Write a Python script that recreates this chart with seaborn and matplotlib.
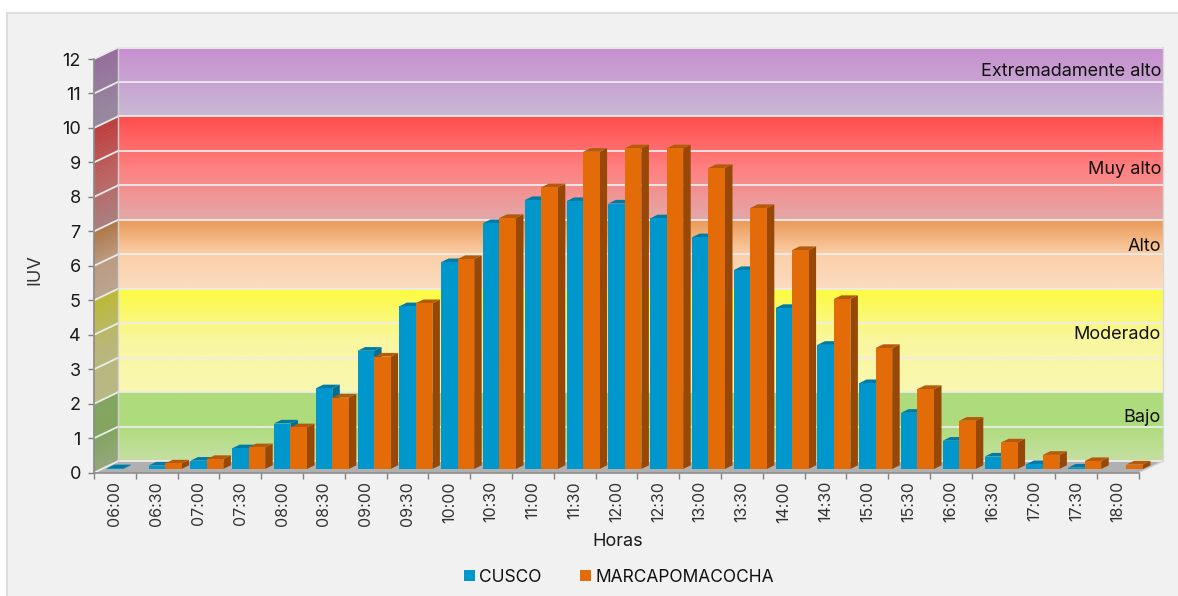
import numpy as np
import pandas as pd
import seaborn as sns
import matplotlib.pyplot as plt
from matplotlib.collections import PolyCollection
from matplotlib.colors import LinearSegmentedColormap
from matplotlib.patches import Polygon, Rectangle

HOURS = ["06:00", "06:30", "07:00", "07:30", "08:00", "08:30", "09:00", "09:30",
         "10:00", "10:30", "11:00", "11:30", "12:00", "12:30", "13:00", "13:30",
         "14:00", "14:30", "15:00", "15:30", "16:00", "16:30", "17:00", "17:30", "18:00"]
CUSCO = [0.02, 0.10, 0.24, 0.60, 1.32, 2.34, 3.43, 4.72, 6.00, 7.13, 7.80, 7.77, 7.70,
         7.27, 6.72, 5.77, 4.67, 3.60, 2.49, 1.63, 0.82, 0.36, 0.14, 0.04, 0.0]
MARCAPOMACOCHA = [0.0, 0.16, 0.29, 0.63, 1.21, 2.07, 3.26, 4.81, 6.09, 7.28, 8.17, 9.20, 9.30,
                  9.30, 8.73, 7.57, 6.35, 4.93, 3.51, 2.32, 1.40, 0.77, 0.41, 0.23, 0.13]

# risk bands: limits, names, where the name sits, wall gradient top -> bottom
BAND_LIMITS = [(10, 12), (7, 10), (5, 7), (2, 5), (0, 2)]
BAND_NAMES = ["Extremadamente alto", "Muy alto", "Alto", "Moderado", "Bajo"]
BAND_TEXT_Y = [11.64, 8.80, 6.57, 4.00, 1.60]
BAND_COLORS = [
    ["#c78fd0", "#c8b8d4"],
    ["#ff4d4d", "#ff8080", "#e3a8a8"],
    ["#ea9a58", "#fbcfa8", "#fbdcc0"],
    ["#fdfb3f", "#f9f6a0", "#f9f8b0"],
    ["#aedc7c", "#aedc7c", "#c5dfa2"],
]

W, H = 1178, 596
X0, X1, Y0, Y1 = 94, 1139, 472.7, 59   # front plane in pixels
SERIES_COLORS = {"CUSCO": "#0098cc", "MARCAPOMACOCHA": "#e36c09"}
SIDE_COLORS = {"CUSCO": "#006f96", "MARCAPOMACOCHA": "#974806"}
TOP_COLORS = {"CUSCO": "#007ba6", "MARCAPOMACOCHA": "#b45a08"}

df = pd.DataFrame({"Horas": HOURS * 2,
                   "IUV": CUSCO + MARCAPOMACOCHA,
                   "Serie": ["CUSCO"] * len(HOURS) + ["MARCAPOMACOCHA"] * len(HOURS)})

sns.set_theme(style="white")
plt.rcParams["font.family"] = ["Inter", "DejaVu Sans"]
plt.rcParams["text.color"] = "#1a1a1a"

fig = plt.figure(figsize=(W / 100, H / 100), dpi=100, facecolor="white")
fig.add_artist(Rectangle((7 / W, -0.01), 1.01, 1.01 - 13 / H, transform=fig.transFigure,
                         facecolor="#f1f1f1", edgecolor="#d9d9d9", linewidth=1.2, zorder=-1))
ax = fig.add_axes([X0 / W, 1 - Y0 / H, (X1 - X0) / W, (Y0 - Y1) / H])
ax.patch.set_alpha(0)

sns.barplot(data=df, x="Horas", y="IUV", hue="Serie", order=HOURS,
            palette=SERIES_COLORS, saturation=1, width=0.79, linewidth=0, ax=ax)

xmin, xmax = -0.5, len(HOURS) - 0.5
ymin, ymax = 0, 12
dx, dy = 24 / 41.8, 1 / 3        # depth of the box in data units
bar_dx, bar_dy = 0.18, 0.107     # depth of one bar
shift_x, shift_y = 0.20, 0.107   # bars stand a little behind the front plane

# back and side walls
side_polys, side_cols = [], []
for (lo, hi), stops in zip(BAND_LIMITS, BAND_COLORS):
    cmap = LinearSegmentedColormap.from_list("band", stops)
    grad = np.linspace(0, 1, 64).reshape(-1, 1)
    ax.imshow(grad, cmap=cmap, aspect="auto", zorder=0, clip_on=False, interpolation="bilinear",
              extent=(xmin + dx, xmax + dx, lo + dy, hi + dy))
    edges = np.linspace(hi, lo, 33)
    for i in range(32):
        c = np.array(cmap((i + 0.5) / 32)[:3]) * 0.72 + 0.02
        a, b = edges[i], edges[i + 1]
        side_polys.append([(xmin, a), (xmin + dx, a + dy), (xmin + dx, b + dy), (xmin, b)])
        side_cols.append(tuple(c))
ax.add_collection(PolyCollection(side_polys, facecolors=side_cols, edgecolors=side_cols,
                                 linewidths=0.4, zorder=0.5, clip_on=False), autolim=False)

# floor
ax.add_patch(Polygon([(xmin, 0), (xmax, 0), (xmax + dx, dy), (xmin + dx, dy)],
                     facecolor="#b0b0b0", edgecolor="none", zorder=1, clip_on=False))

# grid
for v in range(0, 13):
    ax.plot([xmin + dx, xmax + dx], [v + dy, v + dy], color="#ececec", lw=1.3, zorder=2, clip_on=False)
    ax.plot([xmin, xmin + dx], [v, v + dy], color="#ececec", lw=1.3, zorder=2, clip_on=False)
ax.plot([xmin + dx, xmin + dx], [dy, 12 + dy], color="#d4d4d4", lw=1.0, zorder=2, clip_on=False)
ax.plot([xmax + dx, xmax + dx], [dy, 12 + dy], color="#d8d8d8", lw=1.0, zorder=2, clip_on=False)
ax.plot([xmax, xmax + dx], [0, dy], color="#d8d8d8", lw=1.0, zorder=2, clip_on=False)

# bars: shift the front faces and add side and top faces
for k, (container, name) in enumerate(zip(ax.containers, SERIES_COLORS)):
    for bar in container:
        h = bar.get_height()
        if h <= 0:
            bar.set_visible(False)
            continue
        bar.set_x(bar.get_x() + shift_x)
        bar.set_y(shift_y)
        bar.set_zorder(3.5 + k)
        bar.set_clip_on(False)
        x, w, y = bar.get_x(), bar.get_width(), shift_y
        ax.add_patch(Polygon([(x + w, y), (x + w + bar_dx, y + bar_dy),
                              (x + w + bar_dx, y + h + bar_dy), (x + w, y + h)],
                             facecolor=SIDE_COLORS[name], edgecolor="none", zorder=3 + k, clip_on=False))
        ax.add_patch(Polygon([(x, y + h), (x + w, y + h),
                              (x + w + bar_dx, y + h + bar_dy), (x + bar_dx, y + h + bar_dy)],
                             facecolor=TOP_COLORS[name], edgecolor="none", zorder=3 + k, clip_on=False))

for name, ty in zip(BAND_NAMES, BAND_TEXT_Y):
    ax.text(xmax + dx - 0.05, ty, name, ha="right", va="center", fontsize=13, color="#111111", zorder=6)

ax.set_xlim(xmin, xmax)
ax.set_ylim(ymin, ymax)
ax.set_yticks(range(0, 13))
ax.set_xticks(range(len(HOURS)))
ax.set_xticklabels(HOURS, rotation=90)
ax.set_xticks(np.arange(xmin, xmax + 0.5, 1), minor=True)
ax.tick_params(axis="x", which="major", length=0, pad=6, labelsize=11.5, labelcolor="#333333")
ax.tick_params(axis="x", which="minor", length=4, width=1, color="#808080", bottom=True)
ax.tick_params(axis="y", length=4.5, width=1, color="#808080", pad=5, left=True, labelsize=13, labelcolor="#1a1a1a")
for side in ["top", "right"]:
    ax.spines[side].set_visible(False)
for side in ["left", "bottom"]:
    ax.spines[side].set_color("#8c8c8c")
    ax.spines[side].set_linewidth(1.2)

ax.set_xlabel("Horas", fontsize=13, color="#1a1a1a", va="center")
ax.xaxis.set_label_coords((618 - X0) / (X1 - X0), -(541 - Y0) / (Y0 - Y1))
ax.set_ylabel("IUV", fontsize=13, color="#333333", va="center")
ax.yaxis.set_label_coords((35 - X0) / (X1 - X0), (Y0 - 270) / (Y0 - Y1))

handles, labels = ax.get_legend_handles_labels()
ax.legend(handles, labels, loc="center", bbox_to_anchor=(619 / W, 1 - 577 / H),
          bbox_transform=fig.transFigure, ncol=2, frameon=False, fontsize=12.5,
          handlelength=0.63, handleheight=0.63, handletextpad=0.25, columnspacing=2.25,
          borderpad=0, labelcolor="#111111")

fig.savefig("out.png", dpi=100)
plt.close(fig)
